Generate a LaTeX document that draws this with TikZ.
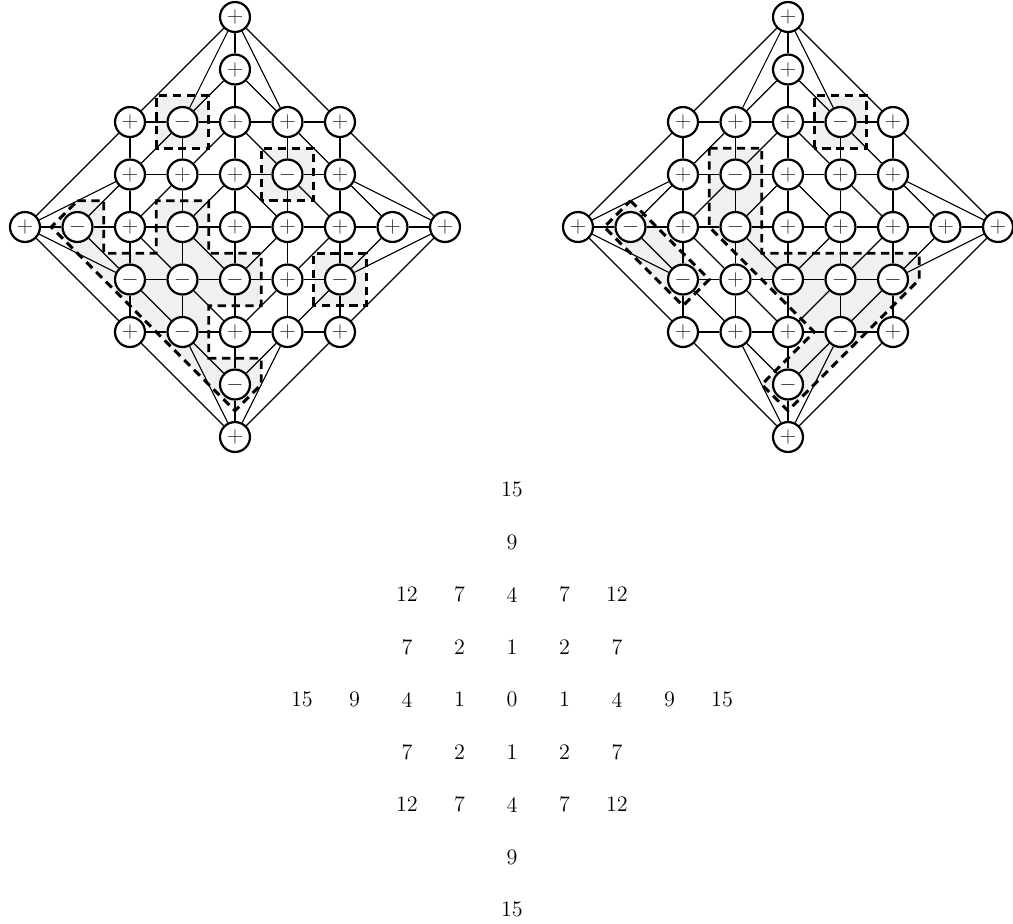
\documentclass[tikz,border=0pt]{standalone}
\pgfdeclarelayer{bg}
\pgfsetlayers{bg,main}
\tikzset{
  pm/.style={circle,draw,line width=1.2pt,fill=white,minimum size=0.57cm,inner sep=0pt,text=black!80,font=\large},
  edge/.style={line width=0.6pt},
  region/.style={line width=1.6pt,dash pattern=on 4.5pt off 3pt},
  shade/.style={fill=black!6},
  num/.style={inner sep=0pt,font=\large}
}
\newcommand\cnx[5]{%
  \pgfmathtruncatemacro\ia{#2+4}\pgfmathtruncatemacro\ja{#3+4}%
  \pgfmathtruncatemacro\ib{#4+4}\pgfmathtruncatemacro\jb{#5+4}%
  \draw[edge] (#1\ia\ja) -- (#1\ib\jb);}
\newcommand\board[3]{%
  \begin{scope}[xshift=#2cm]
    \foreach \x/\y/\s in {#3}{%
      \pgfmathtruncatemacro\ii{\x+4}\pgfmathtruncatemacro\jj{\y+4}%
      \node[pm] (#1\ii\jj) at (\x,\y) {$\s$};}
    % grid rows and columns
    \foreach \y in {-2,-1,1,2}{\foreach \x in {-2,...,1}{\cnx{#1}{\x}{\y}{\x+1}{\y}}}
    \foreach \x in {-4,...,3}{\cnx{#1}{\x}{0}{\x+1}{0}}
    \foreach \x in {-2,-1,1,2}{\foreach \y in {-2,...,1}{\cnx{#1}{\x}{\y}{\x}{\y+1}}}
    \foreach \y in {-4,...,3}{\cnx{#1}{0}{\y}{0}{\y+1}}
    % diagonals, by reflection of the upper-left quadrant
    \foreach \sx in {1,-1}{\foreach \sy in {1,-1}{%
      \foreach \a/\b in {-3/0,-2/0,-1/0,-2/1,-1/1,-1/2}{%
        \cnx{#1}{(\sx)*(\a)}{(\sy)*(\b)}{(\sx)*(\a+1)}{(\sy)*(\b+1)}}
      \cnx{#1}{(\sx)*(-4)}{0}{(\sx)*(-2)}{(\sy)*1}
      \cnx{#1}{(\sx)*(-4)}{0}{(\sx)*(-2)}{(\sy)*2}
      \cnx{#1}{0}{(\sy)*4}{(\sx)*(-1)}{(\sy)*2}
      \cnx{#1}{0}{(\sy)*4}{(\sx)*(-2)}{(\sy)*2}
    }}
  \end{scope}}
\begin{document}
\begin{tikzpicture}
\useasboundingbox (-4.476,-13.257) rectangle (14.819,4.324);
% ---------- left board ----------
\begin{pgfonlayer}{bg}
  \fill[shade] (-3,0.5) -- (-2.5,0.5) -- (-2.5,-0.5) -- (-1.5,-0.5) -- (-1.5,0.5) -- (-0.5,0.5) -- (-0.5,-0.5) -- (0.5,-0.5) -- (0.5,-1.5) -- (-0.5,-1.5) -- (-0.5,-2.5) -- (0.5,-2.5) -- (0.5,-3) -- (0,-3.5) -- (-3.5,0) -- cycle;
  \fill[shade] (-1.5,1.5) rectangle (-0.5,2.5);
  \fill[shade] (0.5,0.5) rectangle (1.5,1.5);
  \fill[shade] (1.5,-1.5) rectangle (2.5,-0.5);
\end{pgfonlayer}
\board{L}{0}{0/4/+, 0/3/+,
  -2/2/+, -1/2/-, 0/2/+, 1/2/+, 2/2/+,
  -2/1/+, -1/1/+, 0/1/+, 1/1/-, 2/1/+,
  -4/0/+, -3/0/-, -2/0/+, -1/0/-, 0/0/+, 1/0/+, 2/0/+, 3/0/+, 4/0/+,
  -2/-1/-, -1/-1/-, 0/-1/-, 1/-1/+, 2/-1/-,
  -2/-2/+, -1/-2/-, 0/-2/+, 1/-2/+, 2/-2/+,
  0/-3/-, 0/-4/+}
\draw[region] (-3,0.5) -- (-2.5,0.5) -- (-2.5,-0.5) -- (-1.5,-0.5) -- (-1.5,0.5) -- (-0.5,0.5) -- (-0.5,-0.5) -- (0.5,-0.5) -- (0.5,-1.5) -- (-0.5,-1.5) -- (-0.5,-2.5) -- (0.5,-2.5) -- (0.5,-3) -- (0,-3.5) -- (-3.5,0) -- cycle;
\draw[region] (-1.5,1.5) rectangle (-0.5,2.5);
\draw[region] (0.5,0.5) rectangle (1.5,1.5);
\draw[region] (1.5,-1.5) rectangle (2.5,-0.5);
% ---------- right board ----------
\begin{scope}[xshift=10.533cm]
\begin{pgfonlayer}{bg}
  \fill[shade] (-1.5,1.5) -- (-0.5,1.5) -- (-0.5,-0.5) -- (2.5,-0.5) -- (2.5,-1) -- (0,-3.5) -- (-0.5,-3) -- (0.5,-2) -- (-1.5,0) -- cycle;
  \fill[shade] (-3,0.5) -- (-1.5,-1) -- (-2,-1.5) -- (-3.5,0) -- cycle;
  \fill[shade] (0.5,1.5) rectangle (1.5,2.5);
\end{pgfonlayer}
\end{scope}
\board{R}{10.533}{0/4/+, 0/3/+,
  -2/2/+, -1/2/+, 0/2/+, 1/2/-, 2/2/+,
  -2/1/+, -1/1/-, 0/1/+, 1/1/+, 2/1/+,
  -4/0/+, -3/0/-, -2/0/+, -1/0/-, 0/0/+, 1/0/+, 2/0/+, 3/0/+, 4/0/+,
  -2/-1/-, -1/-1/+, 0/-1/-, 1/-1/-, 2/-1/-,
  -2/-2/+, -1/-2/+, 0/-2/+, 1/-2/-, 2/-2/+,
  0/-3/-, 0/-4/+}
\begin{scope}[xshift=10.533cm]
\draw[region] (-1.5,1.5) -- (-0.5,1.5) -- (-0.5,-0.5) -- (2.5,-0.5) -- (2.5,-1) -- (0,-3.5) -- (-0.5,-3) -- (0.5,-2) -- (-1.5,0) -- cycle;
\draw[region] (-3,0.5) -- (-1.5,-1) -- (-2,-1.5) -- (-3.5,0) -- cycle;
\draw[region] (0.5,1.5) rectangle (1.5,2.5);
\end{scope}
% ---------- numbers ----------
\begin{scope}[shift={(5.276,-9)}]
\foreach \i/\j/\v in {0/4/15, 0/3/9,
  -2/2/12, -1/2/7, 0/2/4, 1/2/7, 2/2/12,
  -2/1/7, -1/1/2, 0/1/1, 1/1/2, 2/1/7,
  -4/0/15, -3/0/9, -2/0/4, -1/0/1, 0/0/0, 1/0/1, 2/0/4, 3/0/9, 4/0/15,
  -2/-1/7, -1/-1/2, 0/-1/1, 1/-1/2, 2/-1/7,
  -2/-2/12, -1/-2/7, 0/-2/4, 1/-2/7, 2/-2/12,
  0/-3/9, 0/-4/15}{%
  \pgfmathtruncatemacro\ii{\i+4}\pgfmathtruncatemacro\jj{\j+4}%
  \node[num] (N\ii\jj) at (\i,\j) {\v};}
\end{scope}
\end{tikzpicture}
\end{document}
